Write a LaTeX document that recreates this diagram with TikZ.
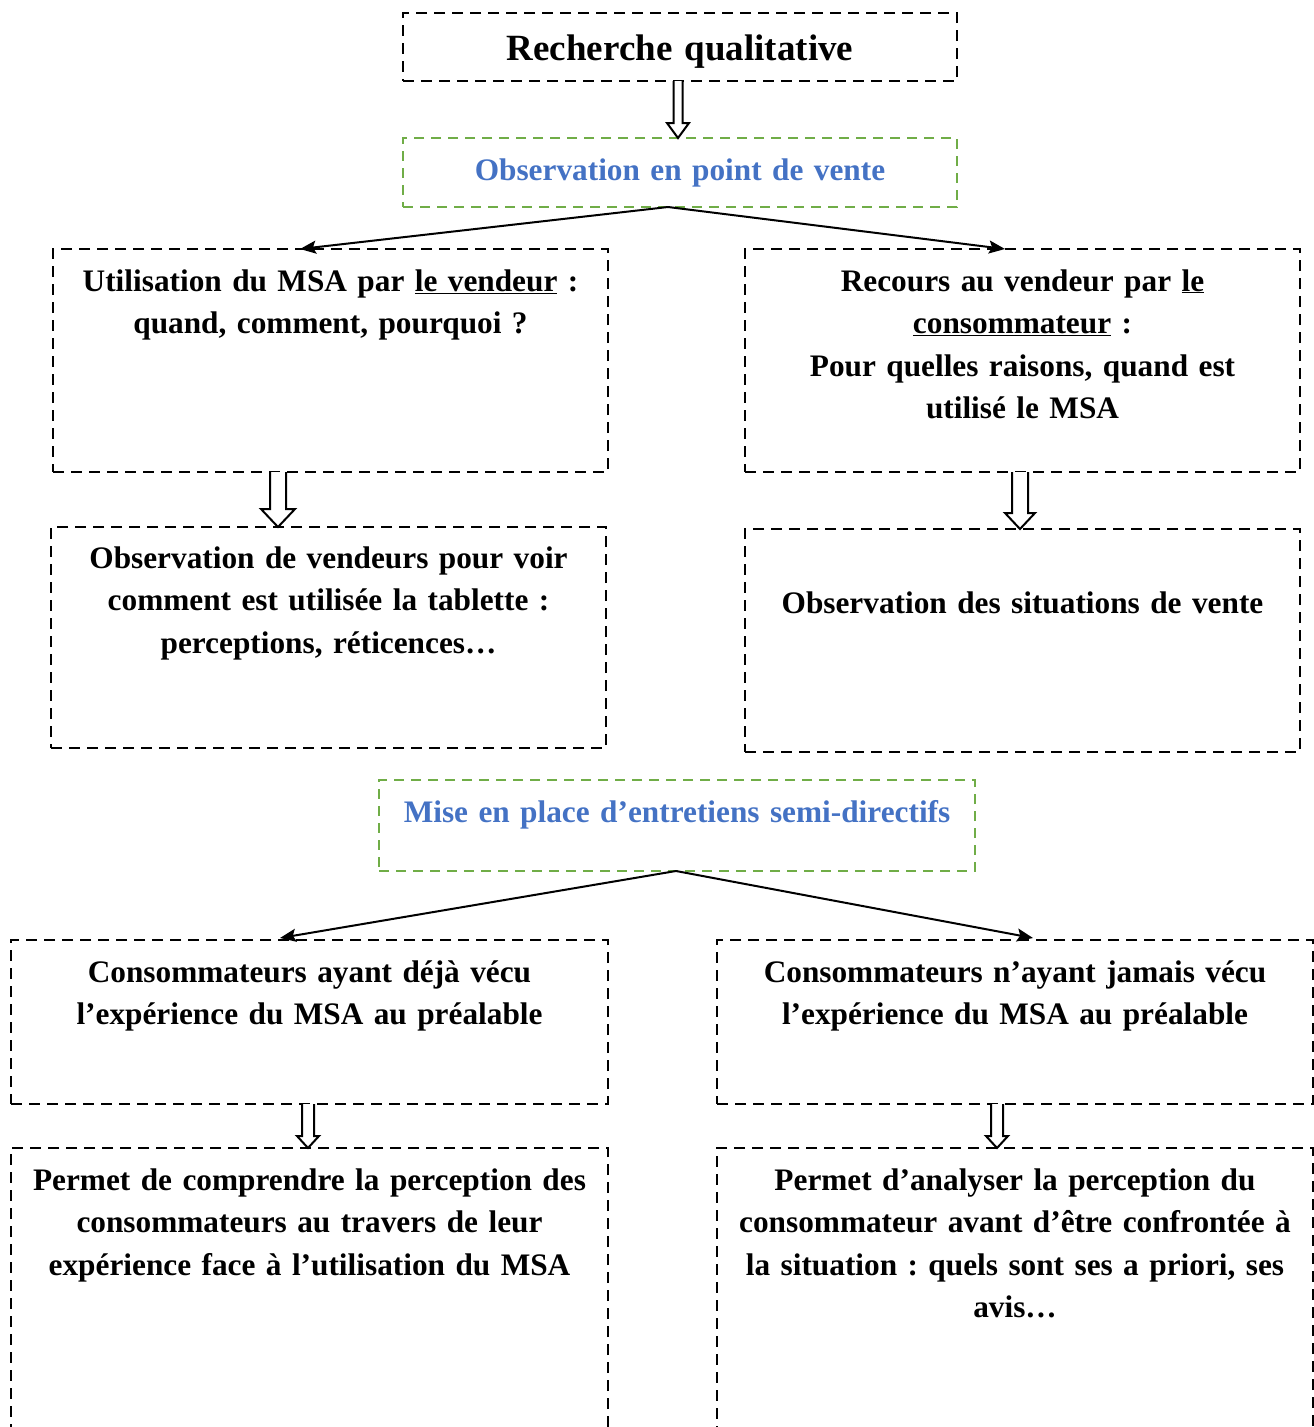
\documentclass[tikz,border=0pt]{standalone}
\usepackage{fontspec}
\setmainfont{Liberation Serif}
\usetikzlibrary{arrows.meta,calc}
\definecolor{bluetxt}{HTML}{4472C4}
\definecolor{greenbox}{HTML}{70AD47}
\frenchspacing
\tikzset{
  box/.style={draw=black, line width=2.5pt, dash pattern=on 11pt off 7pt, inner sep=0pt, outer sep=0pt, rectangle},
  gbox/.style={draw=greenbox, line width=2.6pt, dash pattern=on 10pt off 7pt, inner sep=0pt, outer sep=0pt, rectangle},
  txt/.style={anchor=base, align=center, inner sep=0pt, font=\fontsize{31.3}{42.5}\selectfont\bfseries\frenchspacing},
  link/.style={line width=2pt, -{Stealth[length=16pt,width=13pt,inset=3pt]}},
  hollowarr/.style={line width=2pt, fill=white, line join=miter},
}
\newcommand\harrow[6]{%
  \draw[hollowarr] let \p1=(#1.south), \p2=(#2.north) in
   ({#3pt-#4pt},\y1) -- ({#3pt-#4pt},{\y2+#6pt}) -- ({#3pt-#5pt},{\y2+#6pt}) -- ({#3pt},\y2)
   -- ({#3pt+#5pt},{\y2+#6pt}) -- ({#3pt+#4pt},{\y2+#6pt}) -- ({#3pt+#4pt},\y1);
}
\begin{document}
\begin{tikzpicture}[x=1pt,y=-1pt]
\useasboundingbox (0,0) rectangle (1314,1427);
\clip (0,0) rectangle (1314,1427);
% boxes
\node[box, minimum width=554, minimum height=68] (b1) at (680,47) {};
\node[gbox, minimum width=554, minimum height=69] (b2) at (680,172.5) {};
\node[box, minimum width=555, minimum height=223] (b3) at (330.5,360.5) {};
\node[box, minimum width=555, minimum height=223] (b4) at (1022.5,360.5) {};
\node[box, minimum width=555, minimum height=221] (b5) at (328.5,637.5) {};
\node[box, minimum width=555, minimum height=223] (b6) at (1022.5,640.5) {};
\node[gbox, minimum width=596, minimum height=91] (b7) at (677,825.5) {};
\node[box, minimum width=597, minimum height=164] (b8) at (309.5,1022) {};
\node[box, minimum width=596, minimum height=164] (b9) at (1015,1022) {};
\node[box, minimum width=597, minimum height=312] (b10) at (309.5,1304) {};
\node[box, minimum width=596, minimum height=312] (b11) at (1015,1304) {};
% texts
\node[txt, font=\fontsize{37}{44}\selectfont\bfseries, text width=540pt] (t1) at (680,60) {Recherche qualitative};
\node[txt, text width=540pt, text=bluetxt] (t2) at (680,180) {Observation en point de vente};
\node[txt, text width=550pt] (t3) at (330.5,291) {Utilisation du MSA par \underline{le vendeur} :\\ quand, comment, pourquoi ?};
\node[txt, text width=550pt] (t4) at (1022.5,291) {Recours au vendeur par \underline{le}\\ \underline{consommateur} :\\ Pour quelles raisons, quand est\\ utilisé le MSA};
\node[txt, text width=550pt] (t5) at (328.5,568) {Observation de vendeurs pour voir\\ comment est utilisée la tablette :\\ perceptions, réticences…};
\node[txt, text width=550pt] (t6) at (1022.5,613) {Observation des situations de vente};
\node[txt, text width=590pt, text=bluetxt] (t7) at (677,822) {Mise en place d’entretiens semi-directifs};
\node[txt, text width=592pt] (t8) at (309.5,982) {Consommateurs ayant déjà vécu\\ l’expérience du MSA au préalable};
\node[txt, text width=592pt] (t9) at (1015,982) {Consommateurs n’ayant jamais vécu\\ l’expérience du MSA au préalable};
\node[txt, text width=592pt] (t10) at (309.5,1190) {Permet de comprendre la perception des\\ consommateurs au travers de leur\\ expérience face à l’utilisation du MSA};
\node[txt, text width=592pt] (t11) at (1015,1190) {Permet d’analyser la perception du\\ consommateur avant d’être confrontée à\\ la situation : quels sont ses a priori, ses\\ avis…};
% connector points
\coordinate (s1) at ($(b2.south)+(-12,0)$);
\coordinate (e3) at ($(b3.north)+(-30.5,0)$);
\coordinate (e4) at ($(b4.north)+(-17.5,0)$);
\coordinate (s2) at ($(b7.south)+(-1,0)$);
\coordinate (e8) at ($(b8.north)+(-29.5,-2)$);
\coordinate (e9) at ($(b9.north)+(18,-2)$);
\draw[link] (s1) -- (e3);
\draw[link] (s1) -- (e4);
\draw[link] (s2) -- (e8);
\draw[link] (s2) -- (e9);
% hollow arrows
\harrow{b1}{b2}{678}{4.5}{11}{15}
\harrow{b3}{b5}{278}{8}{17}{18}
\harrow{b4}{b6}{1020}{8}{15}{16}
\harrow{b8}{b10}{308}{6}{11}{12}
\harrow{b9}{b11}{997}{6}{11}{12}
\end{tikzpicture}
\end{document}
